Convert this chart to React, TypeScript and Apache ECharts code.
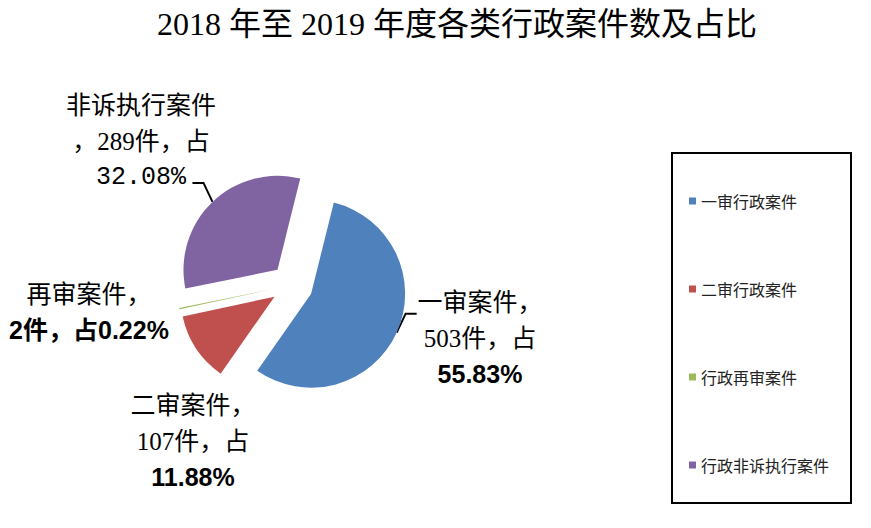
import React, { useEffect, useRef } from "react";
import * as echarts from "echarts";

const titleText = "2018 年至 2019 年度各类行政案件数及占比";
const categories = ["一审行政案件", "二审行政案件", "行政再审案件", "行政非诉执行案件"];
const shortNames = ["一审案件", "二审案件", "再审案件", "非诉执行案件"];
const values = [503, 107, 2, 289];
const colors = ["#4F81BD", "#C0504D", "#9BBB59", "#8064A2"];
// label text block placement: [centerX, firstLineY]
const labelPos = [
  [480, 302],
  [193, 405],
  [89, 294],
  [141, 105],
];
const showLine = [true, false, false, true];

const CENTER = [292, 285];
const RADIUS = 94;
const OFFSET = 21;
const START_CW_FROM_TOP = 14; // degrees clockwise from 12 o'clock

export default function App() {
  const ref = useRef<HTMLDivElement>(null);
  useEffect(() => {
    if (!ref.current) return;
    const chart = echarts.init(ref.current, null, { renderer: "svg" });
    const cjk = '"Liberation Serif", "Noto Sans CJK SC", serif';
    const boldSans = '"Liberation Sans", "Noto Sans CJK SC", sans-serif';
    const mono = '"Liberation Mono", "Noto Sans CJK SC", monospace';
    const total = values.reduce((a, b) => a + b, 0);
    const pct = values.map((v) => ((v / total) * 100).toFixed(2));

    // label lines of text for each slice
    const labelLines: { t: string; f: string; w: string }[][] = values.map((v, i) => {
      const s = shortNames[i];
      if (i === 2)
        return [
          { t: `${s}，`, f: cjk, w: "normal" },
          { t: `${v}件，占${pct[i]}%`, f: boldSans, w: "bold" },
        ];
      if (i === 3)
        return [
          { t: s, f: cjk, w: "normal" },
          { t: `，${v}件，占`, f: cjk, w: "normal" },
          { t: `${pct[i]}%`, f: mono, w: "normal" },
        ];
      return [
        { t: `${s}，`, f: cjk, w: "normal" },
        { t: `${v}件，占`, f: cjk, w: "normal" },
        { t: `${pct[i]}%`, f: boldSans, w: "bold" },
      ];
    });

    const graphics: any[] = [
      {
        type: "rect",
        shape: { x: 672, y: 153, width: 179, height: 350 },
        style: { fill: "none", stroke: "#000", lineWidth: 2 },
      },
    ];
    labelLines.forEach((lines, i) => {
      const [cx, y0] = labelPos[i];
      lines.forEach((ln, k) => {
        graphics.push({
          type: "text",
          x: cx,
          y: y0 + k * 36,
          style: {
            text: ln.t,
            fontSize: 25,
            fontFamily: ln.f,
            fontWeight: ln.w,
            fill: "#000",
            align: "center",
            verticalAlign: "middle",
          },
        });
      });
    });
    // leader lines derived from slice mid-angles
    let cum = 0;
    values.forEach((v, i) => {
      const mid = START_CW_FROM_TOP + (360 * (cum + v / 2)) / total;
      cum += v;
      if (!showLine[i]) return;
      const rad = (mid * Math.PI) / 180;
      const dx = Math.sin(rad);
      const dy = -Math.cos(rad);
      const p0 = [CENTER[0] + (RADIUS + OFFSET) * dx, CENTER[1] + (RADIUS + OFFSET) * dy];
      const sign = dx > 0 ? 1 : -1;
      const p1 = [p0[0] + sign * 9, p0[1] - 19];
      const p2 = [p1[0] + sign * 11, p1[1]];
      graphics.push({
        type: "polyline",
        shape: { points: [p0, p1, p2] },
        style: { stroke: "#000", lineWidth: 2, fill: "none" },
      });
    });

    const option: any = {
      animation: false,
      backgroundColor: "#fff",
      title: {
        text: titleText,
        left: 152,
        top: 3,
        textStyle: {
          fontSize: 32,
          fontWeight: "normal",
          color: "#000",
          fontFamily: cjk,
        },
      },
      legend: {
        orient: "vertical",
        left: 684,
        top: 188,
        itemWidth: 7,
        itemHeight: 7,
        itemGap: 72,
        icon: "rect",
        selectedMode: false,
        data: categories,
        textStyle: { fontSize: 16, color: "#222", fontFamily: '"Noto Sans CJK SC", sans-serif' },
      },
      graphic: graphics,
      series: [
        {
          type: "pie",
          center: CENTER,
          radius: RADIUS,
          startAngle: 90 - START_CW_FROM_TOP,
          clockwise: true,
          avoidLabelOverlap: false,
          selectedMode: "multiple",
          selectedOffset: OFFSET,
          select: { itemStyle: { borderWidth: 0 } },
          emphasis: { disabled: true },
          label: { show: false },
          labelLine: { show: false },
          data: categories.map((name, i) => ({
            name,
            value: values[i],
            selected: true,
            itemStyle: { color: colors[i] },
          })),
        },
      ],
    };
    chart.setOption(option);
    return () => chart.dispose();
  }, []);
  return (
    <div
      ref={ref}
      style={{ position: "fixed", left: 0, top: 0, width: 871, height: 528 }}
    />
  );
}
